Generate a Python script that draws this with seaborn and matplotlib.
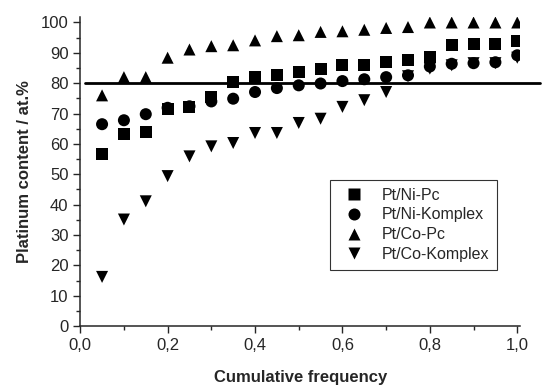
"""
Platinum content vs cumulative frequency for four catalyst series.
"""

import numpy as np
import pandas as pd
import matplotlib
matplotlib.use("Agg")
import matplotlib.pyplot as plt
from matplotlib.ticker import MultipleLocator
import seaborn as sns

# Data
freq = [0.05, 0.10, 0.15, 0.20, 0.25, 0.30, 0.35, 0.40, 0.45, 0.50,
        0.55, 0.60, 0.65, 0.70, 0.75, 0.80, 0.85, 0.90, 0.95, 1.00]
ni_pc = [56.6, 63.4, 63.9, 71.4, 72.2, 75.5, 80.4, 82.0, 82.6, 83.7,
         84.6, 86.1, 86.1, 87.0, 87.8, 88.6, 92.5, 92.8, 93.0, 93.9]
ni_komplex = [66.5, 67.8, 69.8, 71.9, 72.4, 74.0, 74.9, 77.1, 78.4, 79.3,
              79.9, 80.7, 81.3, 82.0, 82.6, 85.5, 86.4, 86.6, 86.9, 89.2]
co_pc = [76.0, 82.0, 82.0, 88.4, 91.1, 92.2, 92.5, 94.1, 95.5, 95.8,
         96.9, 97.1, 97.6, 98.2, 98.5, 100.0, 100.0, 100.0, 100.0, 100.0]
co_komplex = [16.2, 35.1, 41.1, 49.4, 55.9, 59.2, 60.3, 63.6, 63.6, 66.9,
              68.3, 72.2, 74.4, 77.1, 82.3, 84.8, 85.9, 86.6, 86.6, 88.4]
labels = ["Pt/Ni-Pc", "Pt/Ni-Komplex", "Pt/Co-Pc", "Pt/Co-Komplex"]
xtick_vals = [0, 0.2, 0.4, 0.6, 0.8, 1.0]
xtick_labels = ["0,0", "0,2", "0,4", "0,6", "0,8", "1,0"]
threshold = 80

df = pd.DataFrame({
    "freq": freq * 4,
    "pt": ni_pc + ni_komplex + co_pc + co_komplex,
    "sample": np.repeat(labels, len(freq)),
})

sns.set_style("ticks")
plt.rcParams["font.family"] = ["Liberation Sans", "DejaVu Sans"]

fig, ax = plt.subplots(figsize=(5.42, 3.85), dpi=100)

sns.scatterplot(data=df, x="freq", y="pt", style="sample", style_order=labels,
                markers={"Pt/Ni-Pc": "s", "Pt/Ni-Komplex": "o",
                         "Pt/Co-Pc": "^", "Pt/Co-Komplex": "v"},
                color="black", s=75, edgecolor="none", ax=ax, legend=True)

ax.axhline(threshold, xmin=0.01, xmax=1.045, color="black", lw=2,
           clip_on=False, zorder=1)

ax.set_xlim(0, 1.007)
ax.set_ylim(0, 101.7)
ax.set_xticks(xtick_vals)
ax.set_xticklabels(xtick_labels)
ax.xaxis.set_minor_locator(MultipleLocator(0.1))
ax.yaxis.set_major_locator(MultipleLocator(10))
ax.yaxis.set_minor_locator(MultipleLocator(5))

ax.tick_params(which="major", direction="out", length=5, width=1, labelsize=12)
ax.tick_params(which="minor", direction="out", length=3, width=1)
for sp in ["left", "bottom"]:
    ax.spines[sp].set_linewidth(1.1)
sns.despine(ax=ax)

ax.set_xlabel("Cumulative frequency", fontsize=12, fontweight="bold", labelpad=12)
ax.set_ylabel("Platinum content / at.%", fontsize=12, fontweight="bold", labelpad=6)

leg = ax.legend(loc="upper left", bbox_to_anchor=(0.55, 0.5), fontsize=11.5,
                frameon=True, fancybox=False, edgecolor="black", markerscale=1.0,
                handletextpad=0.7, borderpad=0.5, labelspacing=0.3)
leg.get_frame().set_linewidth(0.8)

fig.subplots_adjust(left=0.148, right=0.96, top=0.955, bottom=0.153)
fig.savefig("out.png", dpi=100)
